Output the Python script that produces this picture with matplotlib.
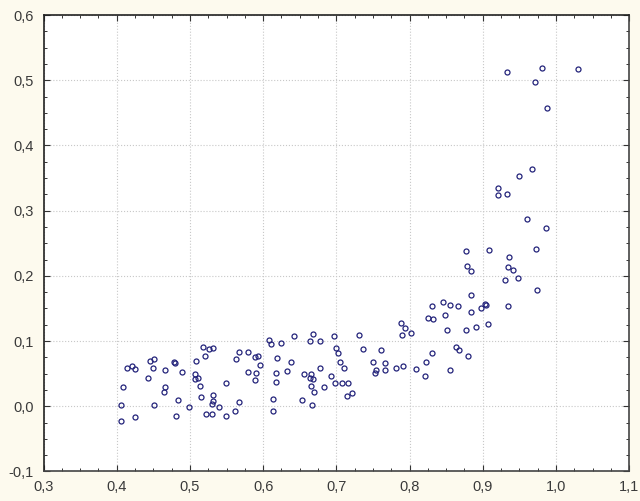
import matplotlib.pyplot as plt
from matplotlib.ticker import MultipleLocator, FuncFormatter

# values, roughly left to right
x_vals = [
    0.4135, 0.4203, 0.4253, 0.4453, 0.4512, 0.4490, 0.4658, 0.4780, 0.4795, 0.4885,
    0.4430, 0.4089, 0.4662, 0.4648, 0.4835, 0.4057, 0.4512, 0.4981, 0.4057, 0.4253,
    0.4808,
    0.5180, 0.5258, 0.5317, 0.5207, 0.5080, 0.5067, 0.5071, 0.5117, 0.5135, 0.5153,
    0.5317, 0.5317, 0.5303, 0.5404, 0.5221, 0.5303, 0.5490, 0.5622, 0.5671, 0.5490,
    0.5636, 0.5671, 0.5794, 0.5890, 0.5936, 0.5958, 0.5794, 0.5899, 0.5885,
    0.6081, 0.6108, 0.6240, 0.6427, 0.6681, 0.6636, 0.6772, 0.6967, 0.6990, 0.7027,
    0.6190, 0.6377, 0.6326, 0.6176, 0.6181, 0.6563, 0.6659, 0.6645, 0.6677, 0.6659,
    0.6695, 0.6831, 0.6772, 0.6932, 0.6981, 0.6141, 0.6536, 0.6673, 0.6141,
    0.8310, 0.8460, 0.8559, 0.8659, 0.8250, 0.8323, 0.8482, 0.8518, 0.8842, 0.8778,
    0.8914, 0.8982, 0.9027, 0.9078, 0.7314, 0.7877, 0.7932, 0.7895, 0.8014, 0.7054,
    0.7104, 0.7363, 0.7609, 0.7495, 0.7668, 0.7536, 0.7523, 0.7663, 0.7818, 0.7905,
    0.8086, 0.8222, 0.8209, 0.8310, 0.8641, 0.8682, 0.8795, 0.8559, 0.7081, 0.7154,
    0.7141, 0.7213,
    0.9865, 0.8768, 0.9087, 0.9355, 0.9728, 0.8782, 0.8842, 0.9341, 0.9419, 0.9300,
    0.9477, 0.9737, 0.8842, 0.9046, 0.9347,
    0.9333, 0.9805, 1.0296, 0.9715, 0.9878, 0.9668, 0.9497, 0.9210, 0.9210, 0.9333,
    0.9601,
]
y_vals = [
    0.0586, 0.0621, 0.0570, 0.0687, 0.0724, 0.0586, 0.0555, 0.0672, 0.0665, 0.0529,
    0.0427, 0.0288, 0.0288, 0.0222, 0.0100, 0.0012, 0.0018, -0.0012, -0.0222, -0.0166,
    -0.0150,
    0.0908, 0.0882, 0.0897, 0.0770, 0.0698, 0.0494, 0.0417, 0.0426, 0.0314, 0.0141,
    0.0172, 0.0074, 0.0034, -0.0012, -0.0115, -0.0126, -0.0150, -0.0069, 0.0064, 0.0360,
    0.0724, 0.0831, 0.0831, 0.0755, 0.0775, 0.0632, 0.0525, 0.0503, 0.0402,
    0.1009, 0.0959, 0.0963, 0.1071, 0.1112, 0.1000, 0.1000, 0.1081, 0.0897, 0.0810,
    0.0739, 0.0683, 0.0540, 0.0503, 0.0376, 0.0488, 0.0498, 0.0426, 0.0417, 0.0314,
    0.0222, 0.0299, 0.0580, 0.0457, 0.0356, 0.0115, 0.0089, 0.0018, -0.0069,
    0.1541, 0.1592, 0.1552, 0.1537, 0.1353, 0.1337, 0.1399, 0.1169, 0.1439, 0.1169,
    0.1215, 0.1511, 0.1561, 0.1261, 0.1086, 0.1270, 0.1199, 0.1086, 0.1123, 0.0683,
    0.0586, 0.0882, 0.0867, 0.0672, 0.0663, 0.0560, 0.0514, 0.0555, 0.0586, 0.0610,
    0.0570, 0.0672, 0.0457, 0.0816, 0.0913, 0.0856, 0.0770, 0.0555, 0.0356, 0.0356,
    0.0156, 0.0196,
    0.2733, 0.2380, 0.2396, 0.2282, 0.2411, 0.2150, 0.2078, 0.2135, 0.2083, 0.1936,
    0.1966, 0.1782, 0.1710, 0.1552, 0.1537,
    0.5130, 0.5187, 0.5172, 0.4972, 0.4574, 0.3632, 0.3531, 0.3347, 0.3233, 0.3248,
    0.2876,
]

fig = plt.figure(figsize=(6.4, 5.01), dpi=100, facecolor="#fdfaee")
ax = fig.add_axes([0.068, 0.059, 0.915, 0.911])
ax.set_facecolor("white")

ax.plot(x_vals, y_vals, linestyle="none", marker="o", markersize=3.6,
        markerfacecolor="none", markeredgecolor="#23237a", markeredgewidth=0.9)

ax.set_xlim(0.3, 1.1)
ax.set_ylim(-0.1, 0.6)
ax.xaxis.set_major_locator(MultipleLocator(0.1))
ax.yaxis.set_major_locator(MultipleLocator(0.1))
ax.xaxis.set_minor_locator(MultipleLocator(0.025))
ax.yaxis.set_minor_locator(MultipleLocator(0.025))

comma = FuncFormatter(lambda v, pos: f"{v:.1f}".replace(".", ","))
ax.xaxis.set_major_formatter(comma)
ax.yaxis.set_major_formatter(comma)

ax.grid(True, which="major", color="#c8c8c8", linestyle=":", linewidth=0.8)
ax.tick_params(which="both", direction="in", top=True, right=True,
               color="#333333", labelsize=10.5, labelcolor="#3a3a3a",
               labelfontfamily="Liberation Sans")
ax.tick_params(which="major", length=4, width=0.8)
ax.tick_params(which="minor", length=2.5, width=0.7)
ax.tick_params(axis="x", pad=6)
ax.tick_params(axis="y", pad=7)

for side in ["top", "left"]:
    ax.spines[side].set_color("#222222")
    ax.spines[side].set_linewidth(1.2)
for side in ["bottom", "right"]:
    ax.spines[side].set_color("#444444")
    ax.spines[side].set_linewidth(1.2)

fig.savefig("out.png", dpi=100, facecolor=fig.get_facecolor())
